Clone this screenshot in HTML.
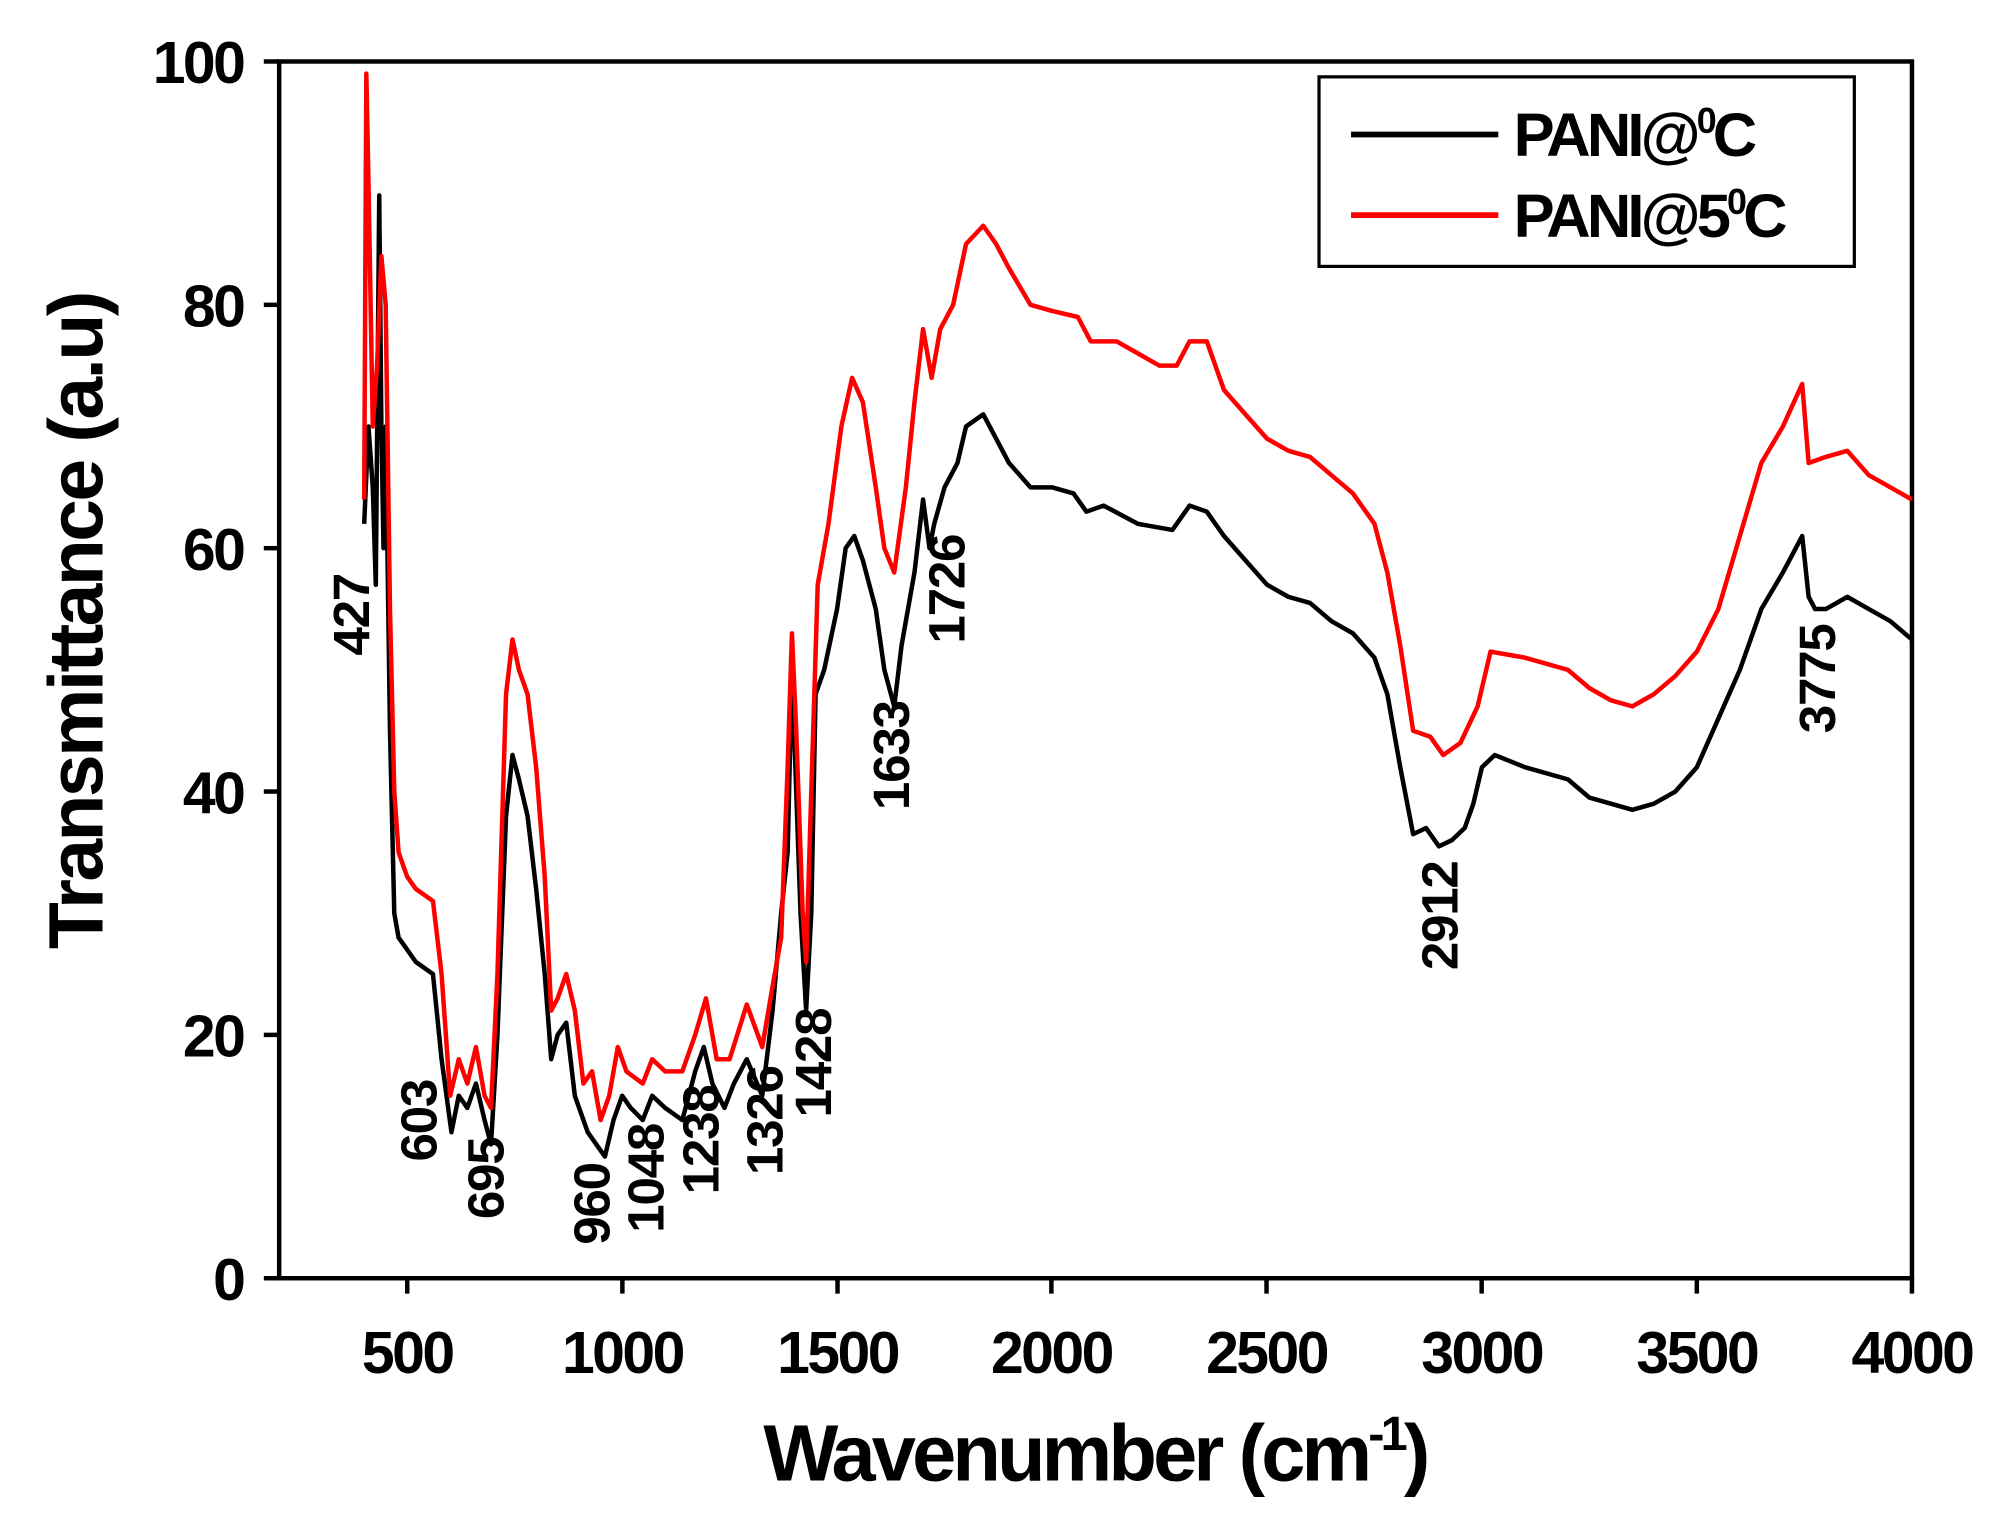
<!DOCTYPE html>
<html><head><style>html,body{margin:0;padding:0;background:#fff}svg{display:block}</style></head><body>
<svg width="2008" height="1528" viewBox="0 0 1568 1193" preserveAspectRatio="none" xmlns="http://www.w3.org/2000/svg" font-family="Liberation Sans, sans-serif">
<rect x="218" y="48" width="1275" height="950" fill="none" stroke="#000" stroke-width="3.5"/>
<g stroke="#000" stroke-width="3.5">
<line x1="206" y1="998" x2="218" y2="998"/><line x1="206" y1="808" x2="218" y2="808"/><line x1="206" y1="618" x2="218" y2="618"/><line x1="206" y1="428" x2="218" y2="428"/><line x1="206" y1="238" x2="218" y2="238"/><line x1="206" y1="48" x2="218" y2="48"/>
<line x1="318" y1="998" x2="318" y2="1010"/><line x1="486" y1="998" x2="486" y2="1010"/><line x1="654" y1="998" x2="654" y2="1010"/><line x1="821" y1="998" x2="821" y2="1010"/><line x1="989" y1="998" x2="989" y2="1010"/><line x1="1157" y1="998" x2="1157" y2="1010"/><line x1="1325" y1="998" x2="1325" y2="1010"/><line x1="1493" y1="998" x2="1493" y2="1010"/>
</g>
<g font-size="46" font-weight="bold" text-anchor="end" letter-spacing="-2">
<text x="190" y="1015">0</text><text x="190" y="825">20</text><text x="190" y="635">40</text><text x="190" y="445">60</text><text x="190" y="255">80</text><text x="190" y="65">100</text>
</g>
<g font-size="46" font-weight="bold" text-anchor="middle" letter-spacing="-2">
<text x="318" y="1072">500</text><text x="486" y="1072">1000</text><text x="654" y="1072">1500</text><text x="821" y="1072">2000</text><text x="989" y="1072">2500</text><text x="1157" y="1072">3000</text><text x="1325" y="1072">3500</text><text x="1493" y="1072">4000</text>
</g>
<text x="855" y="1156" font-size="62" font-weight="bold" text-anchor="middle" letter-spacing="-3">Wavenumber (cm<tspan font-size="38" dy="-24">-1</tspan><tspan dy="24">)</tspan></text>
<text transform="translate(80,485) rotate(-90)" font-size="60" font-weight="bold" text-anchor="middle" letter-spacing="-2">Transmittance (a.u)</text>
<g transform="translate(150.1,998) scale(0.3357,-9.5)" fill="none" stroke-width="4.5" stroke-linejoin="round">
<polyline vector-effect="non-scaling-stroke" stroke="#000" points="400,62 410,70 420,65 427,57 435,89 440,70 445,60 450,70 460,45 470,30 480,28 500,27 520,26 560,25 580,18 603,12 620,15 640,14 660,16 680,13 695,11 710,20 730,38 745,43 760,41 780,38 800,32 820,25 835,18 850,20 870,21 890,15 920,12 940,11 960,10 980,13 1000,15 1020,14 1048,13 1070,15 1100,14 1140,13 1170,17 1190,19 1210,16 1238,14 1260,16 1290,18 1326,15 1350,22 1370,30 1385,35 1395,50 1405,40 1415,30 1428,22 1440,30 1450,48 1470,50 1500,55 1520,60 1540,61 1560,59 1590,55 1610,50 1633,47 1650,52 1680,58 1700,64 1715,60 1726,62 1750,65 1780,67 1800,70 1840,71 1870,69 1900,67 1950,65 2000,65 2050,64.5 2080,63 2120,63.5 2200,62 2280,61.5 2320,63.5 2360,63 2400,61 2450,59 2500,57 2550,56 2600,55.5 2650,54 2700,53 2750,51 2780,48 2810,42 2840,36.5 2870,37 2900,35.5 2930,36 2960,37 2980,39 3000,42 3030,43 3100,42 3200,41 3250,39.5 3300,39 3350,38.5 3400,39 3450,40 3500,42 3550,46 3600,50 3650,55 3700,58 3745,61 3760,56 3775,55 3800,55 3850,56 3900,55 3950,54 4000,52.5"/>
<polyline vector-effect="non-scaling-stroke" stroke="#f00" points="400,64 405,99 410,90 415,80 420,70 430,75 440,84 450,80 460,55 470,40 480,35 500,33 520,32 560,31 580,25 600,15 620,18 640,16 660,19 680,15 695,14 710,25 730,48 745,52.5 760,50 780,48 800,42 820,33 835,22 850,23 870,25 890,22 910,16 930,17 950,13 970,15 990,19 1010,17 1048,16 1070,18 1100,17 1140,17 1170,20 1195,23 1220,18 1250,18 1290,22.5 1326,19 1350,24 1370,28 1385,42 1395,53 1405,45 1420,30 1428,26 1440,40 1455,57 1480,62 1510,70 1535,74 1560,72 1590,65 1610,60 1633,58 1660,65 1680,72 1700,78 1720,74 1740,78 1770,80 1800,85 1840,86.5 1870,85 1900,83 1950,80 2000,79.5 2060,79 2090,77 2150,77 2250,75 2290,75 2320,77 2360,77 2400,73 2450,71 2500,69 2550,68 2600,67.5 2650,66 2700,64.5 2750,62 2780,58 2810,52 2840,45 2880,44.5 2910,43 2950,44 2990,47 3020,51.5 3100,51 3200,50 3250,48.5 3300,47.5 3350,47 3400,48 3450,49.5 3500,51.5 3550,55 3600,61 3650,67 3700,70 3745,73.5 3760,67 3800,67.5 3850,68 3900,66 3950,65 4000,64"/>
</g>
<g font-size="40" font-weight="bold" text-anchor="middle" letter-spacing="-1">
<text transform="translate(288,480) rotate(-90)">427</text>
<text transform="translate(341,875) rotate(-90)">603</text>
<text transform="translate(393,920) rotate(-90)">695</text>
<text transform="translate(476,940) rotate(-90)">960</text>
<text transform="translate(518,920) rotate(-90)">1048</text>
<text transform="translate(561,890) rotate(-90)">1238</text>
<text transform="translate(611,875) rotate(-90)">1326</text>
<text transform="translate(649,830) rotate(-90)">1428</text>
<text transform="translate(710,590) rotate(-90)">1633</text>
<text transform="translate(753,460) rotate(-90)">1726</text>
<text transform="translate(1138,715) rotate(-90)">2912</text>
<text transform="translate(1433,530) rotate(-90)">3775</text>
</g>
<rect x="1030" y="60" width="418" height="148" fill="#fff" stroke="#000" stroke-width="2.5"/>
<line x1="1055" y1="105" x2="1170" y2="105" stroke="#000" stroke-width="4.5"/>
<line x1="1055" y1="168" x2="1170" y2="168" stroke="#f00" stroke-width="4.5"/>
<g font-size="48" font-weight="bold" letter-spacing="-3">
<text x="1182" y="122">PANI@<tspan font-size="28" dy="-18">0</tspan><tspan dy="18">C</tspan></text>
<text x="1182" y="185">PANI@5<tspan font-size="28" dy="-18">0</tspan><tspan dy="18">C</tspan></text>
</g>
</svg>
</body></html>
